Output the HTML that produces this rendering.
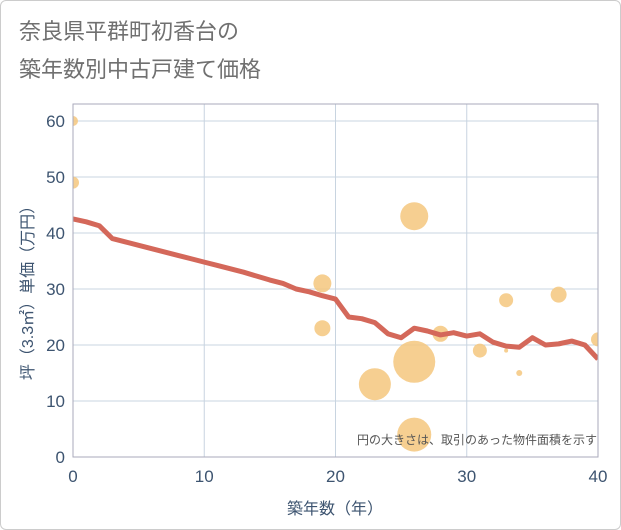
<!DOCTYPE html>
<html><head><meta charset="utf-8"><style>
body{margin:0;background:#fff;font-family:"Liberation Sans","Noto Sans CJK JP",sans-serif}
#wrap{position:relative;width:619px;height:528px;border:1px solid #ccc;border-radius:6px;overflow:hidden}
</style></head><body>
<div id="wrap">
<svg width="621" height="530">
<defs><clipPath id="pc"><rect x="72" y="103" width="525" height="353"/></clipPath></defs>
<text x="18" y="38" font-size="22" fill="#707070" font-family="Liberation Sans,Noto Sans CJK JP,sans-serif">奈良県平群町初香台の</text>
<text x="18" y="76" font-size="22" fill="#707070" font-family="Liberation Sans,Noto Sans CJK JP,sans-serif">築年数別中古戸建て価格</text>
<g id="grid"></g><g id="bubbles" clip-path="url(#pc)"></g><g id="line" clip-path="url(#pc)"></g><g id="axes"></g>
<text x="596" y="443" font-size="12" fill="#555" text-anchor="end" font-family="Liberation Sans,Noto Sans CJK JP,sans-serif">円の大きさは、取引のあった物件面積を示す</text>
<text x="334" y="513" font-size="16" fill="#3d5470" text-anchor="middle" font-family="Liberation Sans,Noto Sans CJK JP,sans-serif">築年数（年）</text>
<text transform="translate(32,288) rotate(-90)" font-size="16" fill="#3d5470" text-anchor="middle" font-family="Liberation Sans,Noto Sans CJK JP,sans-serif">坪（3.3㎡）単価（万円）</text>
</svg></div>
<script>
const xTicks=[0,10,20,30,40];
const yTicks=[0,10,20,30,40,50,60];
const lineYears=[0,1,2,3,4,5,6,7,8,9,10,11,12,13,14,15,16,17,18,19,20,21,22,23,24,25,26,27,28,29,30,31,32,33,34,35,36,37,38,39,40];
const lineValues=[42.5,42,41.3,39,38.4,37.8,37.2,36.6,36,35.4,34.8,34.2,33.6,33,32.3,31.6,31,30,29.5,28.8,28.2,25,24.7,24,22,21.3,23,22.5,21.8,22.2,21.6,22,20.5,19.8,19.6,21.3,20,20.2,20.7,20,17.5];
const bubbleX=[0,0,26,19,19,28,31,33,33,34,37,40,23,26,26];
const bubbleY=[60,49,43,31,23,22,19,28,19,15,29,21,13,17,4];
const bubbleArea=[25,36,196,81,64,64,49,49,4,9,64,49,256,441,289];
const L=72,R=597,T=103,B=456;
const xs=v=>L+(v-0)/40*(R-L);
const ys=v=>B-v/60*(B-120);
const NS="http://www.w3.org/2000/svg";
function mk(t,a,p){const e=document.createElementNS(NS,t);for(const k in a)e.setAttribute(k,a[k]);p.appendChild(e);return e;}
const g=document.getElementById('grid'),ax=document.getElementById('axes');
xTicks.forEach(v=>{const l=mk('line',{x1:xs(v),x2:xs(v),y1:T,y2:B,stroke:'#c8d4e0'},g);


const t=mk('text',{x:xs(v),y:481,'font-size':17,fill:'#3d5470','text-anchor':'middle'},ax);t.textContent=v;

});
yTicks.forEach(v=>{const l=mk('line',{x1:L,x2:R,y1:ys(v),y2:ys(v),stroke:'#c8d4e0'},g);


const t=mk('text',{x:64,y:ys(v)+6,'font-size':17,fill:'#3d5470','text-anchor':'end'},ax);t.textContent=v;

});
const fr=mk('rect',{x:L,y:T,width:R-L,height:B-T,fill:'none',stroke:'#aab'},ax);


const bg=document.getElementById('bubbles');
bubbleX.forEach((x,i)=>{const c=mk('circle',{cx:xs(x),cy:ys(bubbleY[i]),r:Math.sqrt(bubbleArea[i]),fill:'#f5c77e','fill-opacity':0.85},bg);

});
const pts=lineYears.map((y,i)=>xs(y)+','+ys(lineValues[i])).join(' ');
const pl=mk('polyline',{points:pts,fill:'none',stroke:'#d4685a','stroke-width':5,'stroke-linejoin':'round'},document.getElementById('line'));


</script></body></html>
